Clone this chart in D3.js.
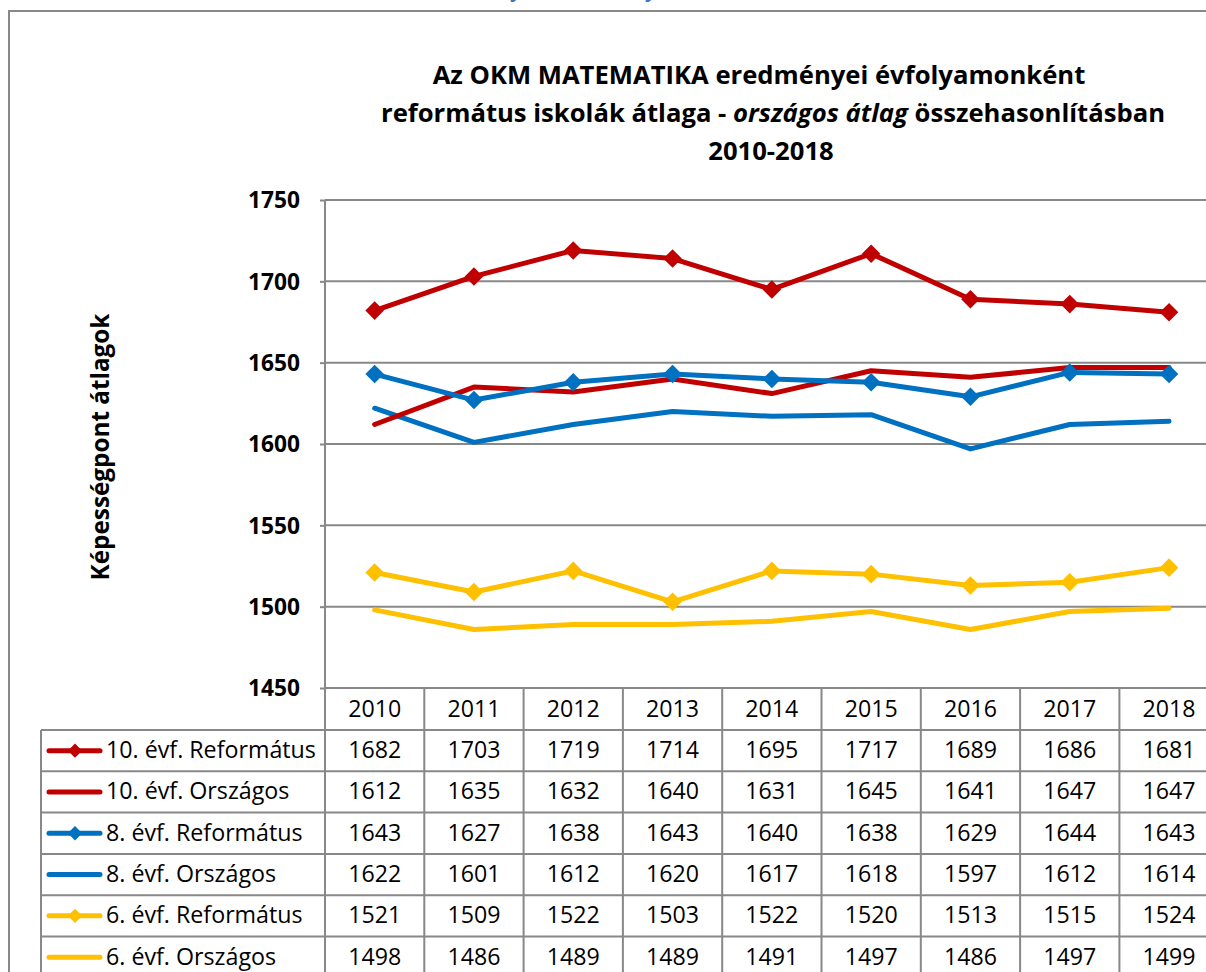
<!DOCTYPE html>
<html><head><meta charset="utf-8">
<script src="https://cdn.jsdelivr.net/npm/d3@7"></script>
<style>body{margin:0;background:#fff}svg{display:block}</style>
</head><body>
<svg id="c" width="1206" height="972"></svg>
<script>
const years = ["2010","2011","2012","2013","2014","2015","2016","2017","2018"];
const seriesNames = ["10. évf. Református","10. évf. Országos","8. évf. Református","8. évf. Országos","6. évf. Református","6. évf. Országos"];
const ref10 = [1682,1703,1719,1714,1695,1717,1689,1686,1681];
const orsz10 = [1612,1635,1632,1640,1631,1645,1641,1647,1647];
const ref8 = [1643,1627,1638,1643,1640,1638,1629,1644,1643];
const orsz8 = [1622,1601,1612,1620,1617,1618,1597,1612,1614];
const ref6 = [1521,1509,1522,1503,1522,1520,1513,1515,1524];
const orsz6 = [1498,1486,1489,1489,1491,1497,1486,1497,1499];
const yTicks = [1450,1500,1550,1600,1650,1700,1750];
const colors = ["#C00000","#C00000","#0070C0","#0070C0","#FFC000","#FFC000"];
const markers = [true,false,true,false,true,false];
const values = [ref10,orsz10,ref8,orsz8,ref6,orsz6];

const svg = d3.select("#c");
const F = "'Open Sans', Lato, sans-serif";
const grid = "#888888";

// scale font size of a text element so its width matches target
function fit(sel, target) {
  const n = sel.node();
  const fs = parseFloat(sel.attr("font-size") || 20);
  const w = n.getComputedTextLength();
  if (w > 0) sel.attr("font-size", (fs * target / w).toFixed(2));
  return sel;
}

const plotL = 325, colW = 99.3;
const x = d3.scaleBand().domain(years).range([plotL, plotL + colW*years.length]);
const y = d3.scaleLinear().domain([1450,1750]).range([688,200]);
const rowH = 41.3, headTop = 688, headH = 42, legL = 41;

// top blue fragments (cut-off text above)
[512,647].forEach(px=>svg.append("text").attr("x",px).attr("y",-3).attr("fill","#4472C4").attr("font-family",F)
  .attr("font-style","italic").attr("font-weight","bold").attr("font-size",20).text("y"));

// outer border
svg.append("path").attr("d","M9,972 V11 H1206").attr("fill","none").attr("stroke",grid).attr("stroke-width",2);

// title
const title = svg.append("g").attr("font-family",F).attr("font-weight","bold").attr("fill","#000").attr("text-anchor","middle");
const t1 = title.append("text").attr("x",759).attr("y",84).attr("font-size",24).text("Az OKM MATEMATIKA eredményei évfolyamonként");
fit(t1, 653);
const tfs = t1.attr("font-size");
const t2 = title.append("text").attr("x",773).attr("y",122).attr("font-size",tfs);
t2.append("tspan").text("református iskolák átlaga - ");
t2.append("tspan").attr("font-style","italic").text("országos átlag");
t2.append("tspan").text(" összehasonlításban");
title.append("text").attr("x",771).attr("y",160).attr("font-size",tfs).text("2010-2018");

// gridlines
svg.append("g").selectAll("line").data(yTicks.filter(d=>d>1450)).join("line")
  .attr("x1",plotL).attr("x2",1206).attr("y1",d=>y(d)).attr("y2",d=>y(d))
  .attr("stroke",grid).attr("stroke-width",2);

// y axis
const yAxis = d3.axisLeft(y).tickValues(yTicks).tickSize(5).tickPadding(20).tickFormat(d3.format("d"));
const ya = svg.append("g").attr("transform",`translate(${plotL},0)`).call(yAxis);
ya.select(".domain").remove();
ya.selectAll(".tick line").attr("stroke",grid).attr("stroke-width",2);
ya.selectAll(".tick text").attr("font-family",F).attr("font-weight","bold").attr("font-size",22).attr("fill","#000").attr("dy","0.35em");
const s0 = ya.select(".tick text");
fit(s0, 52);
ya.selectAll(".tick text").attr("font-size", s0.attr("font-size"));
svg.append("line").attr("x1",plotL).attr("x2",plotL).attr("y1",200).attr("y2",972).attr("stroke",grid).attr("stroke-width",2);

// y axis title
const yt = svg.append("text").attr("transform","translate(109,447) rotate(-90)").attr("text-anchor","middle")
  .attr("font-family",F).attr("font-weight","bold").attr("font-size",22).text("Képességpont átlagok");
fit(yt, 267);

// table
const tbl = svg.append("g");
tbl.append("line").attr("x1",plotL).attr("x2",1206).attr("y1",headTop).attr("y2",headTop).attr("stroke",grid).attr("stroke-width",2);
const rowTops = d3.range(seriesNames.length+1).map(i=>headTop+headH+i*rowH);
tbl.selectAll("line.h").data(rowTops).join("line").attr("class","h")
  .attr("x1",legL).attr("x2",1206).attr("y1",d=>d).attr("y2",d=>d).attr("stroke",grid).attr("stroke-width",2);
tbl.append("line").attr("x1",legL).attr("x2",legL).attr("y1",headTop+headH).attr("y2",972).attr("stroke",grid).attr("stroke-width",2);
tbl.selectAll("line.v").data(years).join("line").attr("class","v")
  .attr("x1",d=>x(d)+x.bandwidth()).attr("x2",d=>x(d)+x.bandwidth())
  .attr("y1",headTop).attr("y2",972).attr("stroke",grid).attr("stroke-width",2);
const yrs = tbl.selectAll("text.yr").data(years).join("text").attr("class","yr")
  .attr("x",d=>x(d)+x.bandwidth()/2).attr("y",headTop+29).attr("text-anchor","middle")
  .attr("font-family",F).attr("font-size",22).text(d=>d);
fit(d3.select(yrs.node()), 53);
const numFs = d3.select(yrs.node()).attr("font-size");
yrs.attr("font-size", numFs);

let nameFs = null;
seriesNames.forEach((name,i)=>{
  const top = rowTops[i];
  const cy = top + rowH/2;
  const g = tbl.append("g");
  g.selectAll("text").data(values[i]).join("text")
    .attr("x",(d,j)=>x(years[j])+x.bandwidth()/2).attr("y",top+28).attr("text-anchor","middle")
    .attr("font-family",F).attr("font-size",numFs).text(d=>d);
  g.append("line").attr("x1",49).attr("x2",100).attr("y1",cy).attr("y2",cy)
    .attr("stroke",colors[i]).attr("stroke-width",5).attr("stroke-linecap","round");
  if (markers[i]) g.append("path").attr("d",d3.symbol(d3.symbolDiamond2,130)).attr("transform",`translate(75,${cy})`).attr("fill",colors[i]);
  const lt = g.append("text").attr("x",106).attr("y",top+28).attr("font-family",F).attr("font-size",22).text(name);
  if (i===0) { fit(lt, 210); nameFs = lt.attr("font-size"); } else lt.attr("font-size", nameFs);
});

// series lines
const line = d3.line().x((d,j)=>x(years[j])+x.bandwidth()/2).y(d=>y(d));
const order = [5,4,3,1,2,0];
order.forEach(i=>{
  svg.append("path").datum(values[i]).attr("d",line).attr("fill","none")
    .attr("stroke",colors[i]).attr("stroke-width",5).attr("stroke-linejoin","round").attr("stroke-linecap","round");
  if (markers[i]) svg.append("g").selectAll("path").data(values[i]).join("path")
    .attr("d",d3.symbol(d3.symbolDiamond2,220))
    .attr("transform",(d,j)=>`translate(${x(years[j])+x.bandwidth()/2},${y(d)})`).attr("fill",colors[i]);
});
</script>
</body></html>
